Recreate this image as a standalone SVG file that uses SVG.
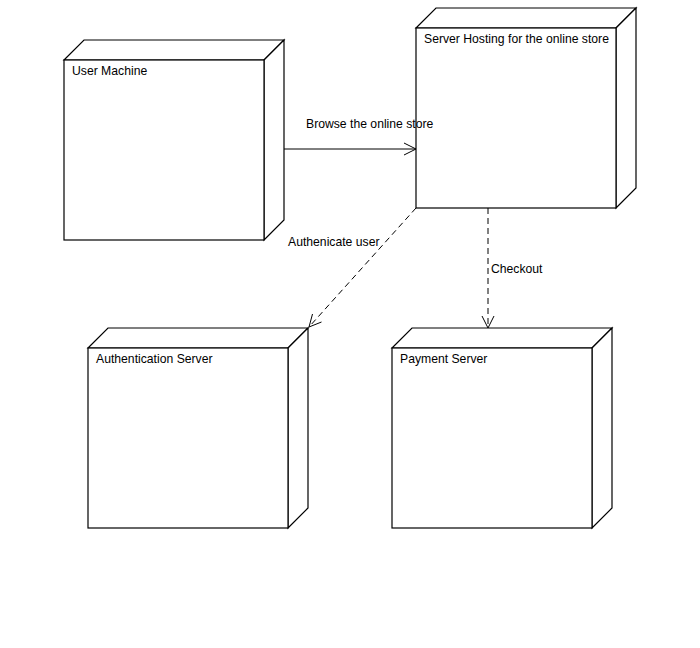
<svg xmlns="http://www.w3.org/2000/svg" width="700" height="648" viewBox="0 0 700 648">
<style>
.box{fill:#fff;stroke:#000;stroke-width:1.2}
.lbl{font-family:"Liberation Sans",Arial,sans-serif;font-size:12.2px;fill:#000}
.con{fill:none;stroke:#000;stroke-width:1}
.dash{stroke-dasharray:6,4}
</style>
<rect width="700" height="648" fill="#fff"/>
<g id="user-machine">
<path class="box" d="M64,60 L84,40 L284,40 L264,60 Z"/>
<path class="box" d="M264,60 L284,40 L284,220 L264,240 Z"/>
<rect class="box" x="64" y="60" width="200" height="180"/>
<text class="lbl" x="72" y="75">User Machine</text>
</g>
<g id="server-hosting">
<path class="box" d="M416,28 L436,8 L636,8 L616,28 Z"/>
<path class="box" d="M616,28 L636,8 L636,188 L616,208 Z"/>
<rect class="box" x="416" y="28" width="200" height="180"/>
<text class="lbl" x="424" y="43">Server Hosting for the online store</text>
</g>
<g id="authentication-server">
<path class="box" d="M88,348 L108,328 L308,328 L288,348 Z"/>
<path class="box" d="M288,348 L308,328 L308,508 L288,528 Z"/>
<rect class="box" x="88" y="348" width="200" height="180"/>
<text class="lbl" x="96" y="363">Authentication Server</text>
</g>
<g id="payment-server">
<path class="box" d="M392,348 L412,328 L612,328 L592,348 Z"/>
<path class="box" d="M592,348 L612,328 L612,508 L592,528 Z"/>
<rect class="box" x="392" y="348" width="200" height="180"/>
<text class="lbl" x="400" y="363">Payment Server</text>
</g>
<g id="connectors">
<line class="con" x1="284" y1="149" x2="416" y2="149"/>
<path class="con" d="M404,143 L416,149 L404,155"/>
<text class="lbl" x="306" y="128">Browse the online store</text>
<line class="con dash" x1="416" y1="208" x2="309" y2="327"/>
<path class="con" d="M312.5,314 L309,327 L321.5,322"/>
<text class="lbl" x="288" y="246">Authenicate user</text>
<line class="con dash" x1="488" y1="208" x2="488" y2="328"/>
<path class="con" d="M482,316 L488,328 L494,316"/>
<text class="lbl" x="491" y="273">Checkout</text>
</g>
</svg>
